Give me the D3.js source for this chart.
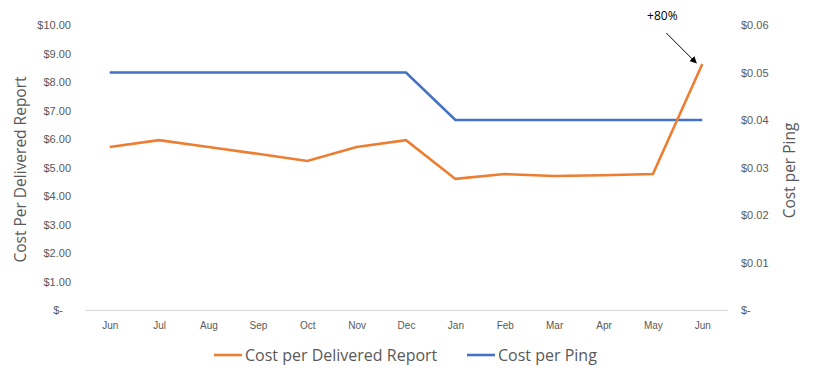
<!DOCTYPE html>
<html>
<head>
<meta charset="utf-8">
<script src="https://cdn.jsdelivr.net/npm/d3@7"></script>
<style>
  body { margin: 0; background: #fff; }
  svg { font-family: 'Open Sans', 'Liberation Sans', sans-serif; }
</style>
</head>
<body>
<svg id="chart" width="814" height="375"></svg>
<script>
const months = ['Jun', 'Jul', 'Aug', 'Sep', 'Oct', 'Nov', 'Dec', 'Jan', 'Feb', 'Mar', 'Apr', 'May', 'Jun']
const costPerReport = [5.72, 5.96, 5.72, 5.48, 5.23, 5.72, 5.96, 4.60, 4.77, 4.70, 4.73, 4.77, 8.63]
const costPerPing = [0.05, 0.05, 0.05, 0.05, 0.05, 0.05, 0.05, 0.04, 0.04, 0.04, 0.04, 0.04, 0.04]
const leftTicks = [0, 1, 2, 3, 4, 5, 6, 7, 8, 9, 10]
const rightTicks = [0, 0.01, 0.02, 0.03, 0.04, 0.05, 0.06]

const svg = d3.select('#chart')
const plotLeft = 85
const plotRight = 727
const plotTop = 25
const plotBottom = 310

const ORANGE = '#ed7d31'
const BLUE = '#4472c4'
const GREY = '#595959'

// x positions by index (months repeat, so index based)
const x = d3.scalePoint()
  .domain(d3.range(months.length))
  .range([plotLeft, plotRight])
  .padding(0.5)

const yLeft = d3.scaleLinear().domain([0, 10]).range([plotBottom, plotTop])
const yRight = d3.scaleLinear().domain([0, 0.06]).range([plotBottom, plotTop])

const money = v => v === 0 ? '$-' : '$' + d3.format('.2f')(v)

// left axis
const leftAxis = svg.append('g')
  .attr('transform', `translate(${plotLeft}, 0)`)
  .call(d3.axisLeft(yLeft).tickValues(leftTicks).tickSize(0).tickPadding(14).tickFormat(money))
leftAxis.select('.domain').remove()
leftAxis.selectAll('text').style('font-size', '11px').attr('fill', GREY)
leftAxis.selectAll('.tick').filter(d => d === 0).select('text').attr('dx', -8)

// right axis
const rightAxis = svg.append('g')
  .attr('transform', `translate(${plotRight}, 0)`)
  .call(d3.axisRight(yRight).tickValues(rightTicks).tickSize(0).tickPadding(14).tickFormat(money))
rightAxis.select('.domain').remove()
rightAxis.selectAll('text').style('font-size', '11px').attr('fill', GREY)

// bottom axis
const bottomAxis = svg.append('g')
  .attr('transform', `translate(0, ${plotBottom})`)
  .call(d3.axisBottom(x).tickSize(0).tickPadding(12).tickFormat(i => months[i]))
bottomAxis.select('.domain').attr('stroke', '#d9d9d9')
bottomAxis.selectAll('text').style('font-size', '10px').attr('fill', GREY)

// axis titles
svg.append('text')
  .attr('transform', `translate(26, ${(plotTop + plotBottom) / 2 + 2}) rotate(-90)`)
  .attr('text-anchor', 'middle')
  .style('font-size', '15.5px')
  .attr('fill', GREY)
  .text('Cost Per Delivered Report')

svg.append('text')
  .attr('transform', `translate(795, ${(plotTop + plotBottom) / 2 + 3}) rotate(-90)`)
  .attr('text-anchor', 'middle')
  .style('font-size', '15.5px')
  .attr('fill', GREY)
  .text('Cost per Ping')

// lines
const lineLeft = d3.line().x((d, i) => x(i)).y(d => yLeft(d))
const lineRight = d3.line().x((d, i) => x(i)).y(d => yRight(d))

svg.append('path')
  .datum(costPerPing)
  .attr('fill', 'none')
  .attr('stroke', BLUE)
  .attr('stroke-width', 2.6)
  .attr('d', lineRight)

svg.append('path')
  .datum(costPerReport)
  .attr('fill', 'none')
  .attr('stroke', ORANGE)
  .attr('stroke-width', 2.6)
  .attr('d', lineLeft)

// annotation
svg.append('defs').append('marker')
  .attr('id', 'arrow')
  .attr('viewBox', '0 0 10 10')
  .attr('refX', 9)
  .attr('refY', 5)
  .attr('markerWidth', 7)
  .attr('markerHeight', 7)
  .attr('orient', 'auto')
  .append('path')
  .attr('d', 'M0,0 L10,5 L0,10 Z')
  .attr('fill', '#000')

const last = costPerReport.length - 1
svg.append('line')
  .attr('x1', x(last) - 36)
  .attr('y1', yLeft(costPerReport[last]) - 31)
  .attr('x2', x(last) - 6)
  .attr('y2', yLeft(costPerReport[last]) - 1)
  .attr('stroke', '#000')
  .attr('stroke-width', 1)
  .attr('marker-end', 'url(#arrow)')

svg.append('text')
  .attr('x', x(last) - 40)
  .attr('y', 20)
  .attr('text-anchor', 'middle')
  .style('font-size', '12px')
  .attr('fill', '#000')
  .text('+80%')

// legend
const legendItems = [
  { label: 'Cost per Delivered Report', color: ORANGE, x: 214 },
  { label: 'Cost per Ping', color: BLUE, x: 467 }
]
const legend = svg.append('g').attr('transform', 'translate(0, 355)')
legendItems.forEach(item => {
  legend.append('line')
    .attr('x1', item.x)
    .attr('x2', item.x + 28)
    .attr('stroke', item.color)
    .attr('stroke-width', 2.6)
  legend.append('text')
    .attr('x', item.x + 31)
    .attr('y', 5.5)
    .style('font-size', '16px')
    .attr('fill', GREY)
    .text(item.label)
})
</script>
</body>
</html>
